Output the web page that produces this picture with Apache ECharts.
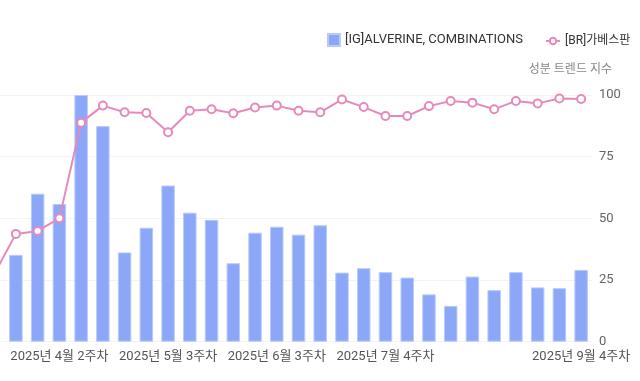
<!DOCTYPE html>
<html>
<head>
<meta charset="utf-8">
<script src="https://cdn.jsdelivr.net/npm/echarts@6/dist/echarts.min.js"></script>
<style>html,body{margin:0;padding:0;background:#fff}#c{width:640px;height:381px}</style>
</head>
<body>
<div id="c"></div>
<script>
const categories = [
  '2025년 3월 3주차','2025년 3월 4주차','2025년 4월 1주차','2025년 4월 2주차','2025년 4월 3주차','2025년 4월 4주차',
  '2025년 5월 1주차','2025년 5월 2주차','2025년 5월 3주차','2025년 5월 4주차','2025년 5월 5주차',
  '2025년 6월 1주차','2025년 6월 2주차','2025년 6월 3주차','2025년 6월 4주차',
  '2025년 7월 1주차','2025년 7월 2주차','2025년 7월 3주차','2025년 7월 4주차','2025년 7월 5주차',
  '2025년 8월 1주차','2025년 8월 2주차','2025년 8월 3주차','2025년 8월 4주차',
  '2025년 9월 1주차','2025년 9월 2주차','2025년 9월 3주차','2025년 9월 4주차'
];
const barName = '[IG]ALVERINE, COMBINATIONS';
const lineName = '[BR]가베스판';
const barValues = [null, 35.2, 60, 55.8, 100, 87.4, 36.2, 46.2, 63.3, 52.3, 49.4, 31.8, 44.2, 46.6, 43.4, 47.2, 28.0, 29.8, 28.2, 26.0, 19.2, 14.5, 26.4, 20.9, 28.2, 22.0, 21.7, 29.1];
const lineValues = [27.4, 43.7, 44.9, 50.0, 88.8, 95.7, 93.0, 92.7, 84.9, 93.6, 94.2, 92.6, 94.9, 95.7, 93.6, 93.0, 98.2, 95.1, 91.5, 91.5, 95.5, 97.6, 96.9, 94.2, 97.6, 96.6, 98.6, 98.4];
const xTickLabels = ['2025년 4월 2주차','2025년 5월 3주차','2025년 6월 3주차','2025년 7월 4주차','2025년 9월 4주차'];
const yTicks = [0, 25, 50, 75, 100];
const yAxisName = '성분 트렌드 지수';

const FONT = 'Roboto, "Noto Sans CJK KR", sans-serif';
const chart = echarts.init(document.getElementById('c'), null, {renderer: 'canvas'});
chart.setOption({
  animation: false,
  textStyle: {fontFamily: FONT},
  legend: [
    {
      left: 322, top: 28, itemWidth: 12, itemHeight: 12,
      textStyle: {fontFamily: FONT, fontSize: 13, color: '#333'},
      data: [{name: barName, icon: 'rect'}]
    },
    {
      left: 540, top: 30, itemWidth: 14, itemHeight: 8,
      textStyle: {fontFamily: FONT, fontSize: 12, color: '#333'},
      data: [{name: lineName}]
    }
  ],
  grid: {left: -16.7, right: 48, top: 95, bottom: 39.3, containLabel: false, outerBoundsMode: 'none'},
  xAxis: {
    type: 'category', data: categories, boundaryGap: true,
    axisLine: {show: false}, axisTick: {show: false},
    axisLabel: {
      margin: 9, color: '#555', fontSize: 13, fontFamily: FONT,
      interval: function (idx, val) { return xTickLabels.indexOf(val) >= 0; }
    }
  },
  yAxis: {
    type: 'value', position: 'right', min: yTicks[0], max: yTicks[yTicks.length - 1], interval: 25,
    name: yAxisName, nameLocation: 'end', nameGap: 19,
    nameTextStyle: {color: '#888', fontSize: 12, fontFamily: FONT, align: 'right', padding: [0, -20, 0, 0]},
    axisLine: {show: false}, axisTick: {show: false},
    axisLabel: {color: '#666', fontSize: 13, margin: 7, fontFamily: FONT},
    splitLine: {lineStyle: {color: '#f3f3f3', width: 1}}
  },
  series: [
    {
      name: barName, type: 'bar', data: barValues, barWidth: '62%',
      itemStyle: {color: '#8ca7f7', borderColor: '#b9cafb', borderWidth: 1}
    },
    {
      name: lineName, type: 'line', data: lineValues,
      symbol: 'emptyCircle', symbolSize: 8,
      lineStyle: {color: '#e68abb', width: 2},
      itemStyle: {color: '#e68abb', borderWidth: 2}
    }
  ]
});
</script>
</body>
</html>
